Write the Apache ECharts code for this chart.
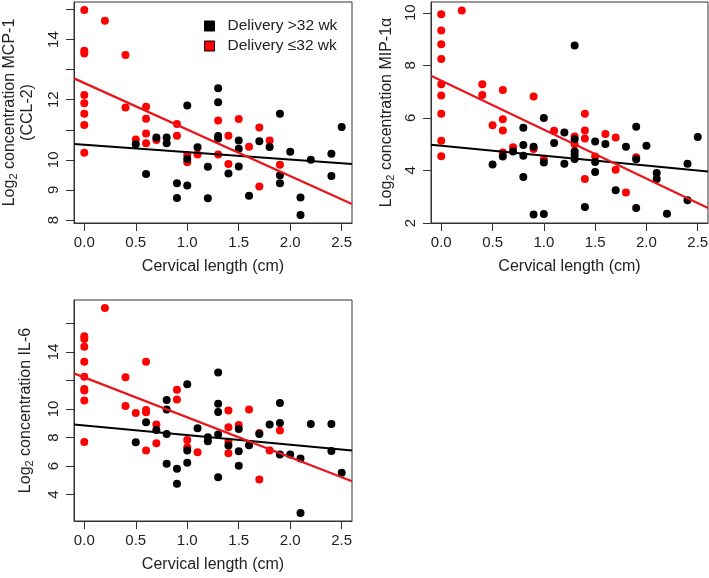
<!DOCTYPE html>
<html>
<head>
<meta charset="utf-8">
<script src="https://cdn.jsdelivr.net/npm/echarts@6/dist/echarts.min.js"></script>
<style>
html, body { margin: 0; padding: 0; background: #fff; }
#chart { width: 709px; height: 578px; }
</style>
</head>
<body>
<div id="chart"></div>
<script>
// tick positions / labels
const xTicks = [0, 0.5, 1, 1.5, 2, 2.5]
const mcpTicks = [8, 9, 10, 11, 12, 13, 14, 15]
const mcpLabels = [8, 9, 10, 12, 14]
const mipTicks = [2, 4, 6, 8, 10]
const mipLabels = [2, 4, 6, 8, 10]
const il6Ticks = [4, 6, 8, 10, 12, 14, 16]
const il6Labels = [4, 6, 8, 10, 14]

const lateName = "Delivery >32 wk"
const earlyName = "Delivery ≤32 wk"

// MCP-1 (CCL-2)
const mcpEarly = [[0,14.98],[0,13.63],[0,13.54],[0,12.16],[0,11.88],[0,11.53],[0,11.16],[0,10.24],[0.2,14.63],[0.4,13.49],[0.4,11.74],[0.5,10.68],[0.6,11.77],[0.6,11.37],[0.6,10.88],[0.6,10.55],[0.7,10.66],[0.9,11.19],[0.9,10.8],[1.0,10.16],[1.0,9.92],[1.1,10.18],[1.3,11.31],[1.3,10.18],[1.4,10.8],[1.4,9.86],[1.5,11.36],[1.6,10.44],[1.7,11.08],[1.7,9.11],[1.8,10.64],[1.9,9.84]]
const mcpLate = [[0.5,10.52],[0.6,9.53],[0.7,10.74],[0.8,10.74],[0.8,10.55],[0.9,9.22],[0.9,8.73],[1.0,11.81],[1.0,10.03],[1.0,9.15],[1.1,10.42],[1.2,9.77],[1.2,8.72],[1.3,12.38],[1.3,11.92],[1.3,10.79],[1.3,10.71],[1.4,9.55],[1.5,10.64],[1.5,10.37],[1.5,9.78],[1.6,8.81],[1.7,10.62],[1.8,10.43],[1.9,11.53],[1.9,9.49],[1.9,9.22],[2.0,10.27],[2.1,8.75],[2.1,8.17],[2.2,10.0],[2.4,10.2],[2.4,9.46],[2.5,11.09]]
const mcpLateFit = [[-0.1,10.53],[2.6,9.86]]
const mcpEarlyFit = [[-0.1,12.71],[2.6,8.53]]

// MIP-1a
const mipEarly = [[0,9.94],[0,9.33],[0,8.8],[0,8.24],[0,7.28],[0,6.85],[0,6.16],[0,5.13],[0,4.54],[0.2,10.09],[0.4,7.28],[0.4,6.87],[0.5,5.72],[0.6,7.06],[0.6,5.95],[0.6,5.52],[0.6,4.68],[0.7,4.88],[0.9,6.81],[0.9,4.82],[1.0,4.43],[1.1,5.51],[1.3,5.29],[1.3,5.0],[1.4,6.16],[1.4,5.52],[1.4,5.22],[1.4,3.67],[1.5,4.53],[1.6,5.39],[1.7,5.25],[1.7,4.03],[1.8,3.16],[1.9,4.5]]
const mipLate = [[0.5,4.23],[0.6,4.53],[0.7,4.72],[0.8,5.62],[0.8,4.97],[0.8,4.56],[0.8,3.75],[0.9,4.9],[0.9,2.32],[1.0,6.0],[1.0,4.3],[1.0,2.34],[1.1,5.04],[1.2,5.44],[1.2,4.25],[1.3,8.75],[1.3,5.19],[1.3,4.72],[1.3,4.59],[1.3,4.44],[1.4,2.61],[1.5,5.1],[1.5,4.32],[1.5,3.94],[1.6,5.01],[1.7,3.25],[1.8,4.9],[1.9,5.66],[1.9,4.43],[1.9,2.57],[2.0,4.94],[2.1,3.9],[2.1,3.67],[2.2,2.35],[2.4,4.25],[2.4,2.87],[2.5,5.27]]
const mipLateFit = [[-0.1,4.98],[2.6,3.96]]
const mipEarlyFit = [[-0.1,7.6],[2.6,2.57]]

// IL-6
const il6Early = [[0,15.1],[0,14.91],[0,14.37],[0,13.32],[0,12.27],[0,11.41],[0,11.29],[0,10.59],[0,7.69],[0.2,17.08],[0.4,12.22],[0.4,10.21],[0.5,9.72],[0.6,13.32],[0.6,9.93],[0.6,9.77],[0.6,7.08],[0.7,8.91],[0.7,7.6],[0.9,11.36],[0.9,10.66],[1.0,7.83],[1.0,7.32],[1.1,6.97],[1.4,9.89],[1.4,8.72],[1.4,7.71],[1.4,6.9],[1.5,8.88],[1.6,9.96],[1.7,8.32],[1.7,5.05],[1.8,7.08],[1.9,8.49]]
const il6Late = [[0.5,7.67],[0.6,9.07],[0.7,8.53],[0.8,10.64],[0.8,9.96],[0.8,8.25],[0.8,6.15],[0.9,5.8],[0.9,4.75],[1.0,11.73],[1.0,7.08],[1.0,6.22],[1.1,8.65],[1.2,8.02],[1.2,7.74],[1.3,12.57],[1.3,10.36],[1.3,9.79],[1.3,8.21],[1.3,5.21],[1.4,7.43],[1.5,8.6],[1.5,7.04],[1.5,6.01],[1.6,7.46],[1.7,8.25],[1.8,8.91],[1.9,10.43],[1.9,9.02],[1.9,6.8],[2.0,6.8],[2.1,6.52],[2.1,2.71],[2.2,8.95],[2.4,8.95],[2.4,7.06],[2.5,5.52]]
const il6LateFit = [[-0.1,8.91],[2.6,7.08]]
const il6EarlyFit = [[-0.1,12.5],[2.6,4.93]]

const font = "'Liberation Sans', Arial, sans-serif"
const ink = "#222"
const frame = "#333"
const red = "#ff0000"

const nameRich = {
    t: { fontFamily: font, fontSize: 16, color: ink, lineHeight: 18 },
    s: { fontFamily: font, fontSize: 11, color: ink, lineHeight: 10, verticalAlign: "bottom" }
}

function xAxisFor(gridIndex) {
    return {
        type: "value", gridIndex, min: -0.1, max: 2.6,
        name: "Cervical length (cm)", nameLocation: "middle", nameGap: 36,
        nameTextStyle: { fontFamily: font, fontSize: 16, color: ink },
        axisLine: { show: true, onZero: false, lineStyle: { color: frame } },
        axisTick: { show: true, length: 8, customValues: xTicks, lineStyle: { color: frame } },
        axisLabel: { customValues: xTicks, formatter: v => v.toFixed(1), margin: 12, fontFamily: font, fontSize: 15, color: ink },
        splitLine: { show: false }
    }
}

function yAxisFor(gridIndex, min, max, ticks, labels, name, gap) {
    return {
        type: "value", gridIndex, min, max,
        name, nameLocation: "middle", nameGap: gap, nameRotate: 90,
        nameTextStyle: { rich: nameRich, align: "center" },
        axisLine: { show: true, onZero: false, lineStyle: { color: frame } },
        axisTick: { show: true, length: 8, customValues: ticks, lineStyle: { color: frame } },
        axisLabel: { customValues: labels, rotate: 90, margin: 13, fontFamily: font, fontSize: 15, color: ink },
        splitLine: { show: false }
    }
}

function panel(i, early, late, earlyFit, lateFit) {
    return [
        { name: earlyName, type: "scatter", xAxisIndex: i, yAxisIndex: i, data: early, symbolSize: 8, itemStyle: { color: red, opacity: 1 }, z: 2 },
        { name: lateName, type: "scatter", xAxisIndex: i, yAxisIndex: i, data: late, symbolSize: 8, itemStyle: { color: "#000", opacity: 1 }, z: 3 },
        { name: lateName, type: "line", xAxisIndex: i, yAxisIndex: i, data: lateFit, symbol: "none", lineStyle: { color: "#000", width: 2 }, z: 4 },
        { name: earlyName, type: "line", xAxisIndex: i, yAxisIndex: i, data: earlyFit, symbol: "none", lineStyle: { color: "#e8161b", width: 2.2 }, z: 4 }
    ]
}

const gridBase = { show: true, borderColor: frame, borderWidth: 1, backgroundColor: "transparent", containLabel: false, outerBoundsMode: "none" }

const option = {
    animation: false,
    backgroundColor: "#fff",
    grid: [
        Object.assign({ left: 74, top: 2, width: 278, height: 221 }, gridBase),
        Object.assign({ left: 431, top: 2, width: 277, height: 221 }, gridBase),
        Object.assign({ left: 74, top: 300, width: 278, height: 221 }, gridBase)
    ],
    legend: {
        orient: "vertical", left: 199, top: 13, itemWidth: 10, itemHeight: 10, itemGap: 4,
        icon: "rect",
        textStyle: { fontFamily: font, fontSize: 15.5, color: ink, padding: [0, 0, 0, 8] },
        data: [
            { name: lateName, itemStyle: { color: "#000", borderColor: "#000", borderWidth: 1 } },
            { name: earlyName, itemStyle: { color: red, borderColor: "#000", borderWidth: 1 } }
        ]
    },
    xAxis: [xAxisFor(0), xAxisFor(1), xAxisFor(2)],
    yAxis: [
        yAxisFor(0, 7.9, 15.25, mcpTicks, mcpLabels, "{t|Log}{s|2}{t| concentration MCP-1}\n{t|(CCL-2)}", 37),
        yAxisFor(1, 2.0, 10.41, mipTicks, mipLabels, "{t|Log}{s|2}{t| concentration MIP-1α}", 35),
        yAxisFor(2, 2.14, 17.65, il6Ticks, il6Labels, "{t|Log}{s|2}{t| concentration IL-6}", 39)
    ],
    series: [
        ...panel(0, mcpEarly, mcpLate, mcpEarlyFit, mcpLateFit),
        ...panel(1, mipEarly, mipLate, mipEarlyFit, mipLateFit),
        ...panel(2, il6Early, il6Late, il6EarlyFit, il6LateFit)
    ]
}

const chart = echarts.init(document.getElementById("chart"))
chart.setOption(option)
window.addEventListener("resize", () => chart.resize())
</script>
</body>
</html>
